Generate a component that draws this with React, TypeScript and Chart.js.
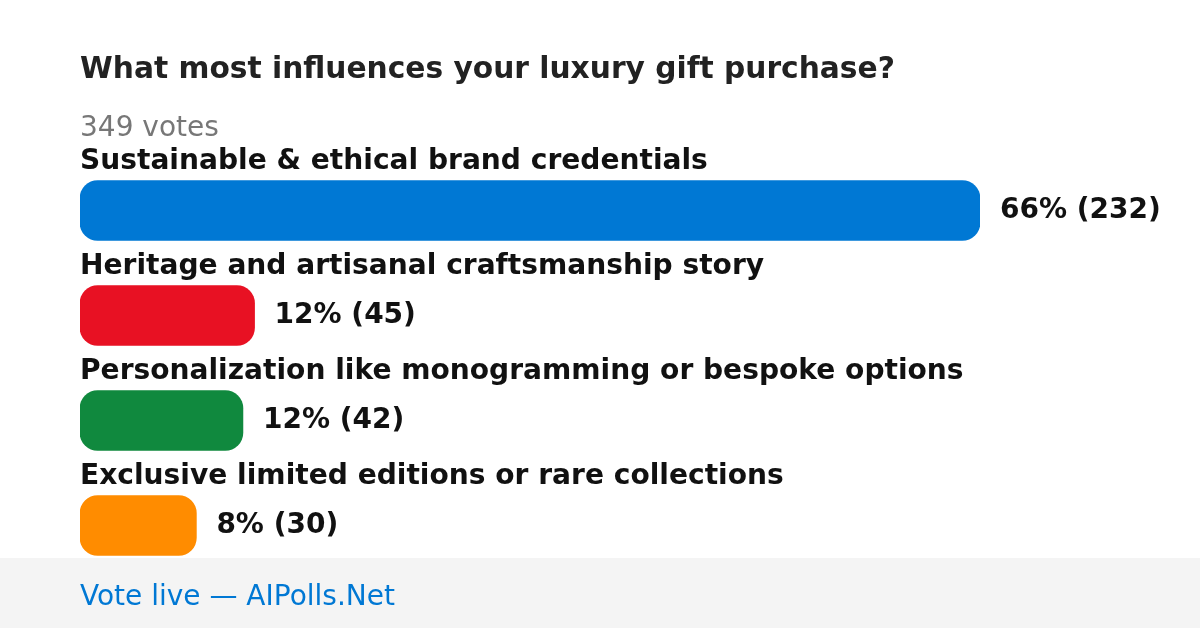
import React, { useEffect, useRef } from "react";
import { Chart, registerables } from "chart.js";

Chart.register(...registerables);

const TITLE = "What most influences your luxury gift purchase?";
const TOTAL_LABEL = "349 votes";
const FOOTER = "Vote live — AIPolls.Net";
const categories = [
  "Sustainable & ethical brand credentials",
  "Heritage and artisanal craftsmanship story",
  "Personalization like monogramming or bespoke options",
  "Exclusive limited editions or rare collections",
];
const votes = [232, 45, 42, 30];
const percents = [66, 12, 12, 8];
const colors = ["#0078d4", "#e81123", "#10893e", "#ff8c00"];

const FONT = "\"DejaVu Sans\", Verdana, sans-serif";

const textPlugin = {
  id: "pollText",
  beforeDraw(chart: any) {
    const ctx = chart.ctx;
    ctx.save();
    ctx.fillStyle = "#f4f4f4";
    ctx.fillRect(0, 558, chart.width, chart.height - 558);
    ctx.restore();
  },
  afterDraw(chart: any) {
    const ctx = chart.ctx;
    const area = chart.chartArea;
    const meta = chart.getDatasetMeta(0);
    ctx.save();
    ctx.textAlign = "left";
    ctx.textBaseline = "alphabetic";
    ctx.fillStyle = "#222222";
    ctx.font = `bold 29.7px ${FONT}`;
    ctx.fillText(TITLE, area.left, 78);
    ctx.fillStyle = "#777777";
    ctx.font = `normal 28px ${FONT}`;
    ctx.fillText(TOTAL_LABEL, area.left, 136);
    meta.data.forEach((bar: any, i: number) => {
      ctx.fillStyle = "#111111";
      ctx.font = `bold 28.1px ${FONT}`;
      ctx.textBaseline = "alphabetic";
      ctx.fillText(categories[i], area.left, bar.y - 42);
      ctx.font = `bold 28px ${FONT}`;
      ctx.textBaseline = "middle";
      ctx.fillText(`${percents[i]}% (${votes[i]})`, bar.x + 20, bar.y);
    });
    ctx.textBaseline = "alphabetic";
    ctx.fillStyle = "#0078d4";
    ctx.font = `normal 28px ${FONT}`;
    ctx.fillText(FOOTER, area.left, 605);
    ctx.restore();
  },
};

export default function App() {
  const ref = useRef<HTMLCanvasElement | null>(null);
  useEffect(() => {
    if (!ref.current) return;
    const chart = new Chart(ref.current, {
      type: "bar",
      data: {
        labels: categories,
        datasets: [
          {
            data: votes,
            backgroundColor: colors,
            borderRadius: 18,
            borderSkipped: false,
            barThickness: 60,
          },
        ],
      },
      options: {
        indexAxis: "y",
        animation: false,
        responsive: false,
        maintainAspectRatio: false,
        layout: { padding: { left: 80, right: 220, top: 158, bottom: 50 } },
        plugins: { legend: { display: false }, tooltip: { enabled: false }, title: { display: false } },
        scales: {
          x: { display: false, min: 0, max: 232, grid: { display: false } },
          y: { display: false, grid: { display: false } },
        },
      },
      plugins: [textPlugin],
    });
    return () => {
      chart.destroy();
    };
  }, []);
  return (
    <div style={{ position: "fixed", left: 0, top: 0, width: 1200, height: 628, background: "#ffffff" }}>
      <canvas ref={ref} width={1200} height={628} style={{ display: "block", width: 1200, height: 628 }} />
    </div>
  );
}
